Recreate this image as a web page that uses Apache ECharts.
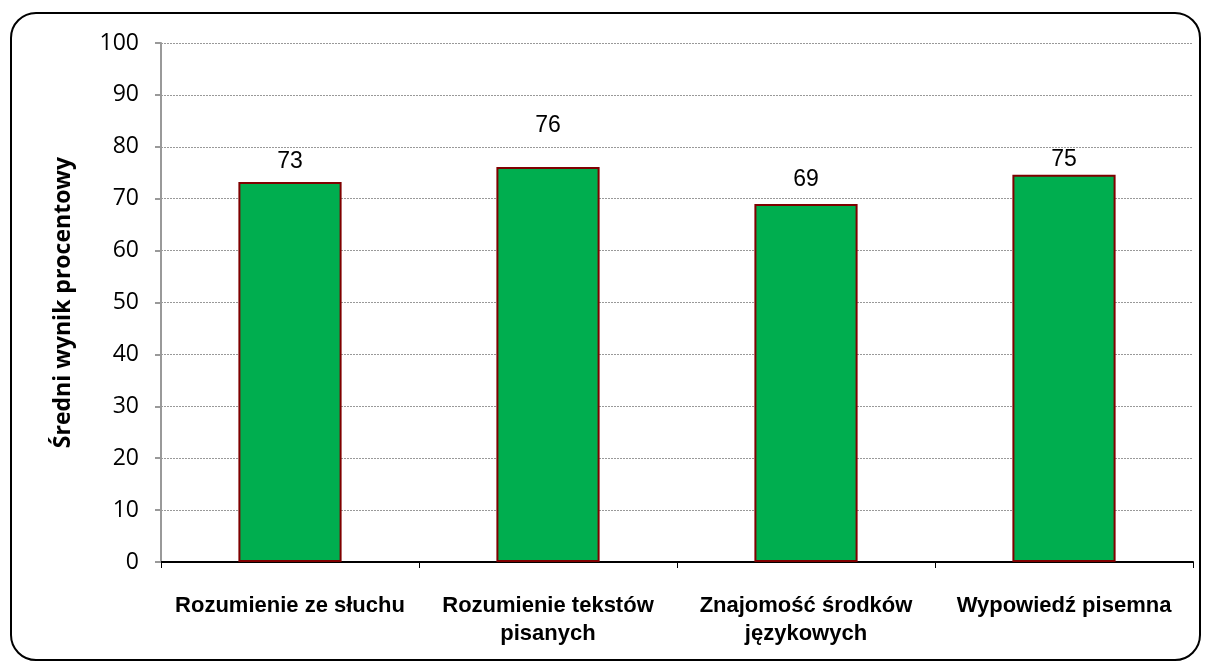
<!DOCTYPE html>
<html>
<head>
<meta charset="utf-8">
<script src="https://cdn.jsdelivr.net/npm/echarts@6/dist/echarts.min.js"></script>
<style>
  html, body { margin: 0; padding: 0; background: #fff; }
  #chart { width: 1210px; height: 671px; }
</style>
</head>
<body>
<div id="chart"></div>
<script>
// dane z wykresu
var categories = ['Rozumienie ze słuchu', 'Rozumienie tekstów\npisanych', 'Znajomość środków\njęzykowych', 'Wypowiedź pisemna'];
var values = [73.2, 76.1, 69.0, 74.6];
var valueLabels = ['73', '76', '69', '75'];
// odstęp etykiety nad słupkiem (przesunięte ręcznie w oryginale)
var labelGap = [9, 30, 13, 4];

var chartDom = document.getElementById('chart');
var myChart = echarts.init(chartDom);

var barData = values.map(function (v, i) {
  return {
    value: v,
    label: { distance: labelGap[i], formatter: valueLabels[i] }
  };
});

var option = {
  animation: false,
  backgroundColor: '#fff',
  graphic: [{
    type: 'rect',
    shape: { x: 11, y: 13, width: 1189, height: 647, r: 25 },
    style: { fill: 'none', stroke: '#000', lineWidth: 2 },
    silent: true
  }],
  grid: { left: 161, right: 17, top: 43, bottom: 109 },
  xAxis: {
    type: 'category',
    data: categories,
    axisLine: { lineStyle: { color: '#000', width: 2 } },
    axisTick: { show: true, length: 6, lineStyle: { color: '#000', width: 1 } },
    axisLabel: {
      interval: 0,
      margin: 30,
      fontFamily: '"Liberation Sans Narrow", "Arial Narrow", "Liberation Sans", sans-serif',
      fontWeight: 'bold',
      fontSize: 22,
      lineHeight: 28,
      color: '#000'
    }
  },
  yAxis: {
    type: 'value',
    min: 0,
    max: 100,
    interval: 10,
    name: 'Średni wynik procentowy',
    nameLocation: 'middle',
    nameGap: 86,
    nameTextStyle: { fontFamily: '"Open Sans", "Noto Sans", sans-serif', fontWeight: 'bold', fontSize: 23, color: '#000' },
    axisLine: { show: true, lineStyle: { color: '#999', width: 2 } },
    axisTick: { show: true, length: 6, lineStyle: { color: '#999', width: 2 } },
    axisLabel: { margin: 22, fontFamily: '"Open Sans", "Noto Sans", sans-serif', fontSize: 23, color: '#000' },
    splitLine: { lineStyle: { color: '#999', type: [2, 1], width: 1 } }
  },
  series: [{
    type: 'bar',
    data: barData,
    barWidth: '40%',
    itemStyle: { color: '#00ae4f', borderColor: '#7f0000', borderWidth: 2 },
    label: {
      show: true,
      position: 'top',
      fontFamily: '"Liberation Sans Narrow", "Arial Narrow", "Liberation Sans", sans-serif',
      fontSize: 23,
      color: '#000'
    }
  }]
};

myChart.setOption(option);
</script>
</body>
</html>
